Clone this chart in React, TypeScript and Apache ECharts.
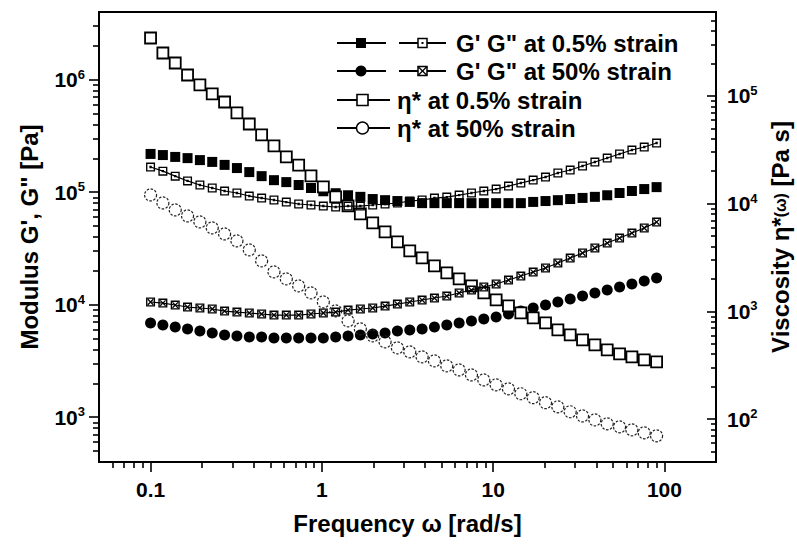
import React, { useEffect, useRef } from "react";
import * as echarts from "echarts";

// Angular frequency (rad/s)
const frequency = [
  0.1, 0.118, 0.1393, 0.1644, 0.1941, 0.2291, 0.2705, 0.3193, 0.377, 0.445,
  0.5253, 0.6201, 0.7321, 0.8642, 1.02, 1.204, 1.422, 1.678, 1.981, 2.339,
  2.761, 3.26, 3.848, 4.542, 5.362, 6.33, 7.472, 8.82, 10.41, 12.29,
  14.51, 17.13, 20.22, 23.87, 28.17, 33.26, 39.26, 46.34, 54.71, 64.58,
  76.23, 89.99,
];

// G' at 0.5% strain (Pa)
const gPrime05 = [
  219000, 214000, 206000, 201000, 193000, 186000, 175000, 164000, 151000, 139000,
  128000, 123000, 116000, 109000, 102000, 98000, 94000, 91000, 87000, 85000,
  83500, 82000, 80000, 80000, 80000, 80000, 80000, 80000, 80000, 80000,
  80000, 82000, 83500, 85000, 87000, 89000, 91000, 94000, 98400, 102500,
  106700, 111000,
];

// G" at 0.5% strain (Pa)
const gDouble05 = [
  167500, 154000, 139000, 126000, 116000, 109000, 102500, 98400, 92500, 88800,
  85300, 81800, 78600, 77000, 75400, 73900, 75400, 75400, 77000, 78600,
  80200, 83500, 85300, 88800, 90600, 94400, 98400, 102500, 106700, 113500,
  120700, 128300, 136500, 148200, 157500, 171000, 185500, 201400, 218600, 237200,
  252200, 273700,
];

// G' at 50% strain (Pa)
const gPrime50 = [
  6880, 6600, 6340, 6080, 5840, 5600, 5380, 5270, 5160, 5160,
  5060, 5060, 5060, 5060, 5060, 5160, 5270, 5380, 5490, 5600,
  5840, 5960, 6080, 6340, 6600, 6880, 7170, 7460, 7780, 8270,
  8790, 9350, 9940, 10570, 11240, 11950, 12710, 13510, 14370, 15280,
  16240, 17270,
];

// G" at 50% strain (Pa)
const gDouble50 = [
  10570, 10350, 9940, 9540, 9350, 9160, 8790, 8610, 8440, 8270,
  8100, 8100, 8100, 8270, 8440, 8610, 8970, 9160, 9350, 9730,
  10140, 10570, 11010, 11470, 11950, 12710, 13510, 14370, 15280, 16580,
  17990, 19530, 21200, 23490, 26010, 28820, 31920, 35350, 39160, 43380,
  48070, 54340,
];

// eta* at 0.5% strain (Pa s)
const eta05 = [
  344300, 249800, 201800, 156200, 126200, 104100, 87700, 69400, 54800, 43400,
  34300, 27100, 22800, 18060, 14270, 11530, 9515, 8022, 6618, 5461,
  4410, 3638, 3133, 2641, 2274, 2001, 1723, 1484, 1278, 1124,
  968, 870, 782, 673, 605, 544, 489, 439, 403, 378,
  355, 340,
];

// eta* at 50% strain (Pa s)
const eta50 = [
  12030, 10140, 8735, 7685, 6761, 5947, 5231, 4505, 3717, 2939,
  2323, 2001, 1723, 1484, 1224, 1010, 816, 688, 592, 521,
  458, 421, 378, 347, 312, 286, 257, 231, 208, 191,
  172, 158, 142, 130, 117, 107, 98.4, 90.4, 84.8, 79.5,
  74.6, 70.0,
];

const freqTicks = [0.1, 1, 10, 100];
const modulusTicks = [1e3, 1e4, 1e5, 1e6];
const viscosityTicks = [1e2, 1e3, 1e4, 1e5];

const FONT = "'Liberation Sans', Arial, Helvetica, sans-serif";

function minorTicks(decades: number[], lo: number, hi: number): number[] {
  const out: number[] = [];
  decades.forEach((d) => {
    for (let m = 2; m <= 9; m++) {
      const v = +(m * d).toPrecision(3);
      if (v > lo && v < hi) out.push(v);
    }
  });
  return out;
}

const SQ_DOT =
  "path://M0 0H10V10H0Z M1.5 1.5V8.5H8.5V1.5Z M3.7 3.7H6.3V6.3H3.7Z";
const SQ_X =
  "path://M0 0H10V10H0Z M1.5 1.5V8.5H8.5V1.5Z M1.5 2.5L2.5 1.5L8.5 7.5L7.5 8.5Z M7.5 1.5L8.5 2.5L2.5 8.5L1.5 7.5Z";

export default function App() {
  const ref = useRef<HTMLDivElement>(null);

  useEffect(() => {
    if (!ref.current) return;
    const chart = echarts.init(ref.current, undefined, { renderer: "svg" });

    const xMin = 0.05, xMax = 200;
    const mMin = 400, mMax = 4e6;
    const vMin = 40, vMax = 6e5;

    const lineStyle = { color: "#000", width: 2 };
    const tickStyle = { color: "#000", width: 1.6 };
    const expRich = {
      b: { fontSize: 21, fontWeight: "bold", fontFamily: FONT, color: "#000", lineHeight: 24 },
      s: { fontSize: 13, fontWeight: "bold", fontFamily: FONT, color: "#000", verticalAlign: "top", lineHeight: 8 },
    };
    const expFmt = (v: number) => `{b|10}{s|${Math.round(Math.log10(v))}}`;

    const pair = (ys: number[]) => frequency.map((f, i) => [f, ys[i]]);

    const legendY = [43, 71, 100, 128];
    const legendText = [
      `G' G" at 0.5% strain`,
      `G' G" at 50% strain`,
      `η* at 0.5% strain`,
      `η* at 50% strain`,
    ];
    const seg = (x1: number, x2: number, y: number) => ({
      type: "line",
      shape: { x1, y1: y, x2, y2: y },
      style: { stroke: "#000", lineWidth: 1.8 },
    });
    const txt = (x: number, y: number, text: string) => ({
      type: "text",
      x,
      y,
      style: {
        text,
        fontSize: 24,
        fontWeight: "bold",
        fontFamily: FONT,
        fill: "#000",
        verticalAlign: "middle",
        align: "left",
      },
    });

    const graphic: any[] = [
      // Row 1
      seg(337, 386, legendY[0]),
      { type: "rect", shape: { x: 356, y: legendY[0] - 5, width: 10, height: 10 }, style: { fill: "#000" } },
      seg(399, 446, legendY[0]),
      { type: "rect", shape: { x: 418, y: legendY[0] - 4.5, width: 9, height: 9 }, style: { fill: "#fff", stroke: "#000", lineWidth: 1.5 } },
      { type: "rect", shape: { x: 421.5, y: legendY[0] - 1, width: 2, height: 2 }, style: { fill: "#000" } },
      txt(456, legendY[0], legendText[0]),
      // Row 2
      seg(337, 386, legendY[1]),
      { type: "circle", shape: { cx: 361, cy: legendY[1], r: 5.5 }, style: { fill: "#000" } },
      seg(399, 446, legendY[1]),
      { type: "rect", shape: { x: 418, y: legendY[1] - 4.5, width: 9, height: 9 }, style: { fill: "#fff", stroke: "#000", lineWidth: 1.5 } },
      { type: "line", shape: { x1: 418, y1: legendY[1] - 4.5, x2: 427, y2: legendY[1] + 4.5 }, style: { stroke: "#000", lineWidth: 1.2 } },
      { type: "line", shape: { x1: 427, y1: legendY[1] - 4.5, x2: 418, y2: legendY[1] + 4.5 }, style: { stroke: "#000", lineWidth: 1.2 } },
      txt(456, legendY[1], legendText[1]),
      // Row 3
      seg(337, 390, legendY[2]),
      { type: "rect", shape: { x: 357, y: legendY[2] - 5.5, width: 11, height: 11 }, style: { fill: "#fff", stroke: "#000", lineWidth: 1.6 } },
      txt(397, legendY[2], legendText[2]),
      // Row 4
      seg(337, 390, legendY[3]),
      { type: "circle", shape: { cx: 362.5, cy: legendY[3], r: 6 }, style: { fill: "#fff", stroke: "#000", lineWidth: 1.4 } },
      txt(397, legendY[3], legendText[3]),
    ];

    const nameStyle = { fontSize: 24, fontWeight: "bold", fontFamily: FONT, color: "#000" };

    const option: any = {
      animation: false,
      backgroundColor: "#fff",
      textStyle: { fontFamily: FONT, color: "#000" },
      grid: {
        left: 99,
        right: 81,
        top: 12,
        bottom: 83,
        show: true,
        borderColor: "#000",
        borderWidth: 2,
        backgroundColor: "transparent",
        outerBoundsMode: "none",
        containLabel: false,
      },
      xAxis: [
        {
          type: "log",
          min: xMin,
          max: xMax,
          position: "bottom",
          axisLine: { show: true, onZero: false, lineStyle },
          axisTick: { show: true, inside: false, length: 10, lineStyle: tickStyle, customValues: freqTicks },
          axisLabel: {
            customValues: freqTicks,
            formatter: (v: number) => String(+(+v).toPrecision(6)),
            margin: 17,
            fontSize: 21,
            fontWeight: "bold",
            fontFamily: FONT,
            color: "#000",
          },
          splitLine: { show: false },
          name: "Frequency ω [rad/s]",
          nameLocation: "middle",
          nameGap: 49,
          nameMoveOverlap: false,
          nameTextStyle: nameStyle,
        },
        {
          type: "log",
          min: xMin,
          max: xMax,
          position: "bottom",
          axisLine: { show: false, onZero: false },
          axisTick: { show: true, inside: false, length: 6, lineStyle: tickStyle, customValues: minorTicks([0.01, 0.1, 1, 10, 100], xMin, xMax) },
          axisLabel: { show: false },
          splitLine: { show: false },
        },
      ],
      yAxis: [
        {
          type: "log",
          min: mMin,
          max: mMax,
          position: "left",
          axisLine: { show: true, onZero: false, lineStyle },
          axisTick: { show: true, inside: false, length: 10, lineStyle: tickStyle, customValues: modulusTicks },
          axisLabel: { customValues: modulusTicks, formatter: expFmt, rich: expRich, margin: 14 },
          splitLine: { show: false },
          name: `Modulus G', G" [Pa]`,
          nameLocation: "middle",
          nameRotate: 90,
          nameGap: 58,
          nameMoveOverlap: false,
          nameTextStyle: nameStyle,
        },
        {
          type: "log",
          min: mMin,
          max: mMax,
          position: "left",
          axisLine: { show: false, onZero: false },
          axisTick: { show: true, inside: false, length: 6, lineStyle: tickStyle, customValues: minorTicks([100, 1e3, 1e4, 1e5, 1e6], mMin, mMax) },
          axisLabel: { show: false },
          splitLine: { show: false },
        },
        {
          type: "log",
          min: vMin,
          max: vMax,
          position: "right",
          axisLine: { show: true, onZero: false, lineStyle },
          axisTick: { show: true, inside: true, length: 9, lineStyle: tickStyle, customValues: viscosityTicks },
          axisLabel: { customValues: viscosityTicks, formatter: expFmt, rich: expRich, margin: 11 },
          splitLine: { show: false },
          name: "Viscosity η*{s|(ω)} [Pa s]",
          nameLocation: "middle",
          nameRotate: 90,
          nameGap: 52,
          nameMoveOverlap: false,
          nameTextStyle: {
            ...nameStyle,
            rich: { s: { fontSize: 16, fontWeight: "bold", fontFamily: FONT, color: "#000" } },
          },
        },
        {
          type: "log",
          min: vMin,
          max: vMax,
          position: "right",
          axisLine: { show: false, onZero: false },
          axisTick: { show: true, inside: true, length: 5, lineStyle: tickStyle, customValues: minorTicks([10, 100, 1e3, 1e4, 1e5], vMin, vMax) },
          axisLabel: { show: false },
          splitLine: { show: false },
        },
      ],
      series: [
        {
          name: `G' 0.5%`,
          type: "scatter",
          xAxisIndex: 0,
          yAxisIndex: 0,
          symbol: "rect",
          symbolSize: 10,
          itemStyle: { color: "#000", opacity: 1 },
          data: pair(gPrime05),
        },
        {
          name: `G" 0.5%`,
          type: "line",
          xAxisIndex: 0,
          yAxisIndex: 0,
          symbol: SQ_DOT,
          symbolSize: 9,
          showAllSymbol: true,
          lineStyle: { color: "#000", width: 1.2 },
          itemStyle: { color: "#000", opacity: 1 },
          data: pair(gDouble05),
        },
        {
          name: `G' 50%`,
          type: "scatter",
          xAxisIndex: 0,
          yAxisIndex: 0,
          symbol: "circle",
          symbolSize: 11,
          itemStyle: { color: "#000", opacity: 1 },
          data: pair(gPrime50),
        },
        {
          name: `G" 50%`,
          type: "line",
          xAxisIndex: 0,
          yAxisIndex: 0,
          symbol: SQ_X,
          symbolSize: 9,
          showAllSymbol: true,
          lineStyle: { color: "#000", width: 1.2 },
          itemStyle: { color: "#000", opacity: 1 },
          data: pair(gDouble50),
        },
        {
          name: "eta 0.5%",
          type: "scatter",
          xAxisIndex: 0,
          yAxisIndex: 2,
          symbol: "rect",
          symbolSize: 11,
          itemStyle: { color: "#fff", borderColor: "#000", borderWidth: 1.8, opacity: 1 },
          data: pair(eta05),
        },
        {
          name: "eta 50%",
          type: "scatter",
          xAxisIndex: 0,
          yAxisIndex: 2,
          symbol: "circle",
          symbolSize: 12,
          itemStyle: {
            color: "rgba(255,255,255,0)",
            borderColor: "#222",
            borderWidth: 1.2,
            borderType: [2.5, 1.5],
            opacity: 1,
          },
          data: pair(eta50),
        },
      ],
      graphic,
    };

    chart.setOption(option);
    return () => chart.dispose();
  }, []);

  return (
    <div
      ref={ref}
      style={{ position: "fixed", left: 0, top: 0, width: 797, height: 545, background: "#fff" }}
    />
  );
}
